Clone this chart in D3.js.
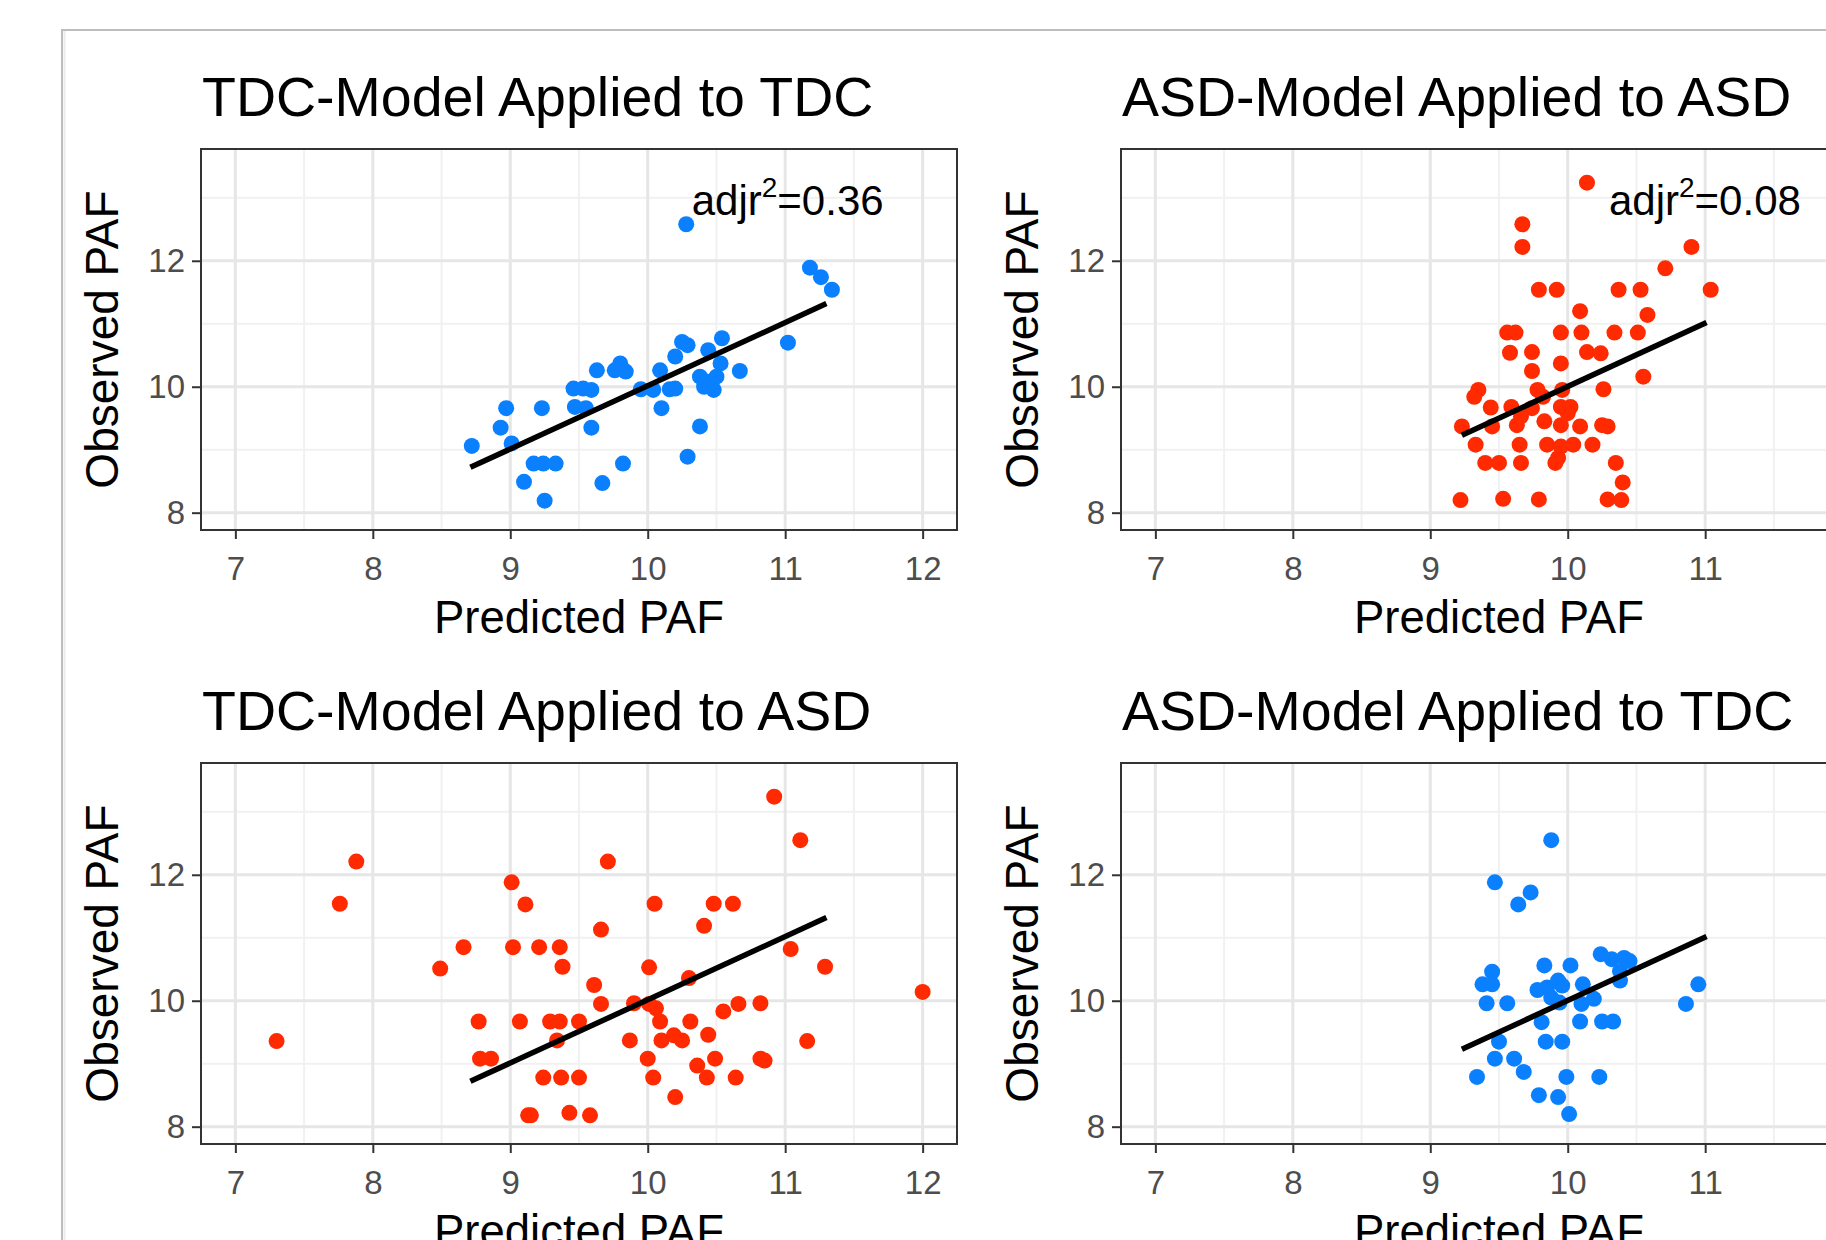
<!DOCTYPE html>
<html>
<head>
<meta charset="utf-8">
<script src="https://cdn.jsdelivr.net/npm/d3@7"></script>
<style>
  html, body { margin: 0; padding: 0; background: #ffffff; }
  svg { display: block; font-family: "Liberation Sans", Arial, Helvetica, sans-serif; }
</style>
</head>
<body>
<svg id="chart" width="1826" height="1240"></svg>
<script>
// ---------------- DATA ----------------
const panelTitles = [
  "TDC-Model Applied to TDC",
  "ASD-Model Applied to ASD",
  "TDC-Model Applied to ASD",
  "ASD-Model Applied to TDC"
];
const xLabel = "Predicted PAF";
const yLabel = "Observed PAF";
const xTicks = [7, 8, 9, 10, 11, 12];
const yTicks = [8, 10, 12];
const xMinor = [7.5, 8.5, 9.5, 10.5, 11.5];
const yMinor = [9, 11, 13];
const xDomain = [6.75, 12.25];
const yDomain = [7.725, 13.775];

// TDC-Model applied to TDC  [predicted, observed]
const tdcOnTdc = [
  [10.28,12.58],[11.18,11.89],[11.26,11.74],[11.34,11.54],[11.02,10.70],[10.25,10.71],
  [10.29,10.66],[10.54,10.77],[10.44,10.58],[10.20,10.48],[10.67,10.25],[10.09,10.26],
  [9.80,10.37],[9.76,10.26],[9.84,10.24],[9.63,10.26],[9.46,9.97],[9.53,9.97],
  [9.59,9.95],[9.47,9.68],[9.55,9.66],[9.59,9.35],[9.95,9.96],[10.04,9.95],
  [10.16,9.96],[10.10,9.66],[10.38,10.16],[10.41,10.00],[10.48,9.95],[10.50,10.16],
  [10.53,10.37],[10.38,9.37],[10.29,8.89],[8.97,9.66],[9.23,9.66],[8.93,9.35],
  [9.01,9.10],[8.72,9.06],[9.17,8.78],[9.24,8.78],[9.33,8.78],[9.10,8.49],
  [9.25,8.19],[9.67,8.47],[9.82,8.78],[10.43,10.08],[10.20,9.97],[10.45,10.05]
];
// ASD-Model applied to ASD
const asdOnAsd = [
  [10.14,13.24],[9.67,12.58],[9.67,12.22],[9.79,11.54],[9.92,11.54],[10.37,11.54],
  [10.53,11.54],[10.90,12.22],[10.71,11.88],[11.04,11.54],[10.09,11.20],[10.58,11.14],
  [9.56,10.86],[9.62,10.86],[9.95,10.86],[10.10,10.86],[10.34,10.86],[10.51,10.86],
  [9.58,10.54],[9.74,10.55],[10.14,10.55],[10.24,10.53],[9.95,10.37],[9.74,10.25],
  [10.55,10.16],[9.35,9.95],[9.32,9.84],[9.78,9.95],[9.82,9.84],[9.96,9.95],
  [10.26,9.96],[9.44,9.67],[9.59,9.68],[9.74,9.66],[9.95,9.68],[10.02,9.68],
  [9.23,9.37],[9.45,9.37],[9.63,9.39],[9.83,9.45],[9.95,9.39],[10.09,9.37],
  [10.25,9.39],[10.29,9.37],[9.33,9.08],[9.65,9.08],[9.85,9.08],[9.95,9.05],
  [10.04,9.08],[10.18,9.08],[9.40,8.79],[9.50,8.79],[9.66,8.79],[9.91,8.79],
  [9.93,8.87],[10.35,8.79],[10.40,8.48],[9.22,8.20],[9.53,8.22],[9.79,8.21],
  [10.29,8.21],[10.39,8.20],[9.66,9.53],[10.00,9.58]
];
// TDC-Model applied to ASD
const tdcOnAsd = [
  [7.30,9.36],[7.76,11.54],[7.88,12.21],[8.49,10.51],[8.66,10.85],[9.01,11.88],
  [9.11,11.53],[9.02,10.85],[9.21,10.85],[9.36,10.85],[9.38,10.54],[9.71,12.21],
  [9.66,11.13],[9.61,10.25],[9.66,9.95],[8.77,9.67],[9.07,9.67],[9.29,9.67],
  [9.36,9.67],[9.50,9.67],[9.34,9.37],[8.78,9.08],[8.86,9.08],[9.24,8.78],
  [9.37,8.78],[9.50,8.78],[9.13,8.18],[9.15,8.18],[9.43,8.22],[9.58,8.18],
  [10.92,13.24],[11.11,12.55],[10.05,11.54],[10.48,11.54],[10.62,11.54],[10.41,11.19],
  [10.01,10.53],[10.30,10.36],[11.04,10.82],[11.29,10.54],[12.00,10.14],[9.90,9.96],
  [10.01,9.95],[10.06,9.88],[10.09,9.67],[10.31,9.67],[10.55,9.83],[10.66,9.95],
  [10.82,9.96],[9.87,9.37],[10.10,9.37],[10.19,9.45],[10.25,9.37],[10.44,9.46],
  [11.16,9.36],[10.00,9.08],[10.49,9.08],[10.82,9.08],[10.85,9.05],[10.36,8.97],
  [10.04,8.78],[10.43,8.78],[10.64,8.78],[10.20,8.47]
];
// ASD-Model applied to TDC
const asdOnTdc = [
  [9.88,12.55],[9.47,11.88],[9.73,11.72],[9.64,11.53],[9.45,10.46],[9.38,10.26],
  [9.45,10.26],[9.41,9.96],[9.56,9.96],[9.83,10.56],[10.02,10.56],[9.78,10.17],
  [9.85,10.21],[9.93,10.32],[9.96,10.24],[9.88,10.05],[9.94,9.97],[10.11,10.26],
  [10.10,9.95],[10.19,10.03],[10.24,10.74],[10.32,10.66],[10.41,10.68],[10.45,10.63],
  [10.38,10.47],[10.38,10.32],[9.81,9.66],[10.09,9.67],[10.25,9.67],[10.33,9.67],
  [9.50,9.35],[9.84,9.35],[9.96,9.35],[9.47,9.08],[9.61,9.08],[9.68,8.87],
  [9.34,8.79],[9.99,8.79],[10.23,8.79],[9.79,8.50],[9.93,8.47],[10.01,8.20],
  [10.95,10.26],[10.86,9.95]
];
// fitted lines [predicted, observed] endpoints
const fitTdcModel = [[8.71, 8.72], [11.30, 11.32]];
const fitAsdModel = [[9.23, 9.23], [11.01, 11.02]];
// adjusted r^2 annotations  [x, y, value]
const annotTdc = [10.32, 12.72, "0.36"];
const annotAsd = [10.30, 12.72, "0.08"];

// ---------------- LAYOUT ----------------
const svg = d3.select("#chart");
const W = 1826, H = 1240;
svg.append("rect").attr("x", 0).attr("y", 0).attr("width", W).attr("height", H).attr("fill", "#fff");
// outer figure frame
svg.append("rect").attr("x", 62).attr("y", 30).attr("width", W).attr("height", H)
  .attr("fill", "#fff").attr("stroke", "#bdbdbd").attr("stroke-width", 2);
svg.append("line").attr("x1", 64.5).attr("x2", 64.5).attr("y1", 31).attr("y2", H)
  .attr("stroke", "#ececec").attr("stroke-width", 2);

const BLUE = "#0a80ff", RED = "#ff2a00";
const panels = [
  { title: panelTitles[0], pts: tdcOnTdc, color: BLUE, fit: fitTdcModel, ann: annotTdc, left: 201, top: 149 },
  { title: panelTitles[1], pts: asdOnAsd, color: RED, fit: fitAsdModel, ann: annotAsd, left: 1121, top: 149 },
  { title: panelTitles[2], pts: tdcOnAsd, color: RED, fit: fitTdcModel, ann: null, left: 201, top: 763 },
  { title: panelTitles[3], pts: asdOnTdc, color: BLUE, fit: fitAsdModel, ann: null, left: 1121, top: 763 }
];
const PW = 756, PH = 381;

panels.forEach(p => {
  const g = svg.append("g").attr("transform", `translate(${p.left},${p.top})`);
  const x = d3.scaleLinear().domain(xDomain).range([0, PW]);
  const y = d3.scaleLinear().domain(yDomain).range([PH, 0]);

  // background
  g.append("rect").attr("width", PW).attr("height", PH).attr("fill", "#fff");

  // minor grid
  g.selectAll(".gxm").data(xMinor).enter().append("line")
    .attr("x1", d => x(d)).attr("x2", d => x(d)).attr("y1", 0).attr("y2", PH)
    .attr("stroke", "#f1f1f1").attr("stroke-width", 2);
  g.selectAll(".gym").data(yMinor).enter().append("line")
    .attr("y1", d => y(d)).attr("y2", d => y(d)).attr("x1", 0).attr("x2", PW)
    .attr("stroke", "#f1f1f1").attr("stroke-width", 2);
  // major grid
  g.selectAll(".gx").data(xTicks).enter().append("line")
    .attr("x1", d => x(d)).attr("x2", d => x(d)).attr("y1", 0).attr("y2", PH)
    .attr("stroke", "#e6e6e6").attr("stroke-width", 3);
  g.selectAll(".gy").data(yTicks).enter().append("line")
    .attr("y1", d => y(d)).attr("y2", d => y(d)).attr("x1", 0).attr("x2", PW)
    .attr("stroke", "#e6e6e6").attr("stroke-width", 3);

  // points
  g.selectAll(".pt").data(p.pts).enter().append("circle")
    .attr("cx", d => x(d[0])).attr("cy", d => y(d[1])).attr("r", 8)
    .attr("fill", p.color);

  // fit line
  g.append("path").datum(p.fit)
    .attr("d", d3.line().x(d => x(d[0])).y(d => y(d[1])))
    .attr("stroke", "#000").attr("stroke-width", 5.5).attr("fill", "none");

  // annotation
  if (p.ann) {
    const t = g.append("text").attr("x", x(p.ann[0])).attr("y", y(p.ann[1]))
      .attr("font-size", 42).attr("fill", "#000");
    t.append("tspan").text("adjr");
    t.append("tspan").attr("font-size", 28).attr("dy", -18).text("2");
    t.append("tspan").attr("dy", 18).text("=" + p.ann[2]);
  }

  // border
  g.append("rect").attr("width", PW).attr("height", PH)
    .attr("fill", "none").attr("stroke", "#333").attr("stroke-width", 2);

  // axes
  const ax = g.append("g").attr("transform", `translate(0,${PH})`)
    .call(d3.axisBottom(x).tickValues(xTicks).tickSize(9).tickPadding(18).tickFormat(d3.format("d")));
  ax.select(".domain").remove();
  ax.selectAll("line").attr("stroke", "#333").attr("stroke-width", 2);
  ax.selectAll("text").attr("font-size", 33).attr("fill", "#4d4d4d")
    .attr("font-family", "'Liberation Sans', Arial, sans-serif");

  const ay = g.append("g")
    .call(d3.axisLeft(y).tickValues(yTicks).tickSize(9).tickPadding(7).tickFormat(d3.format("d")));
  ay.select(".domain").remove();
  ay.selectAll("line").attr("stroke", "#333").attr("stroke-width", 2);
  ay.selectAll("text").attr("font-size", 33).attr("fill", "#4d4d4d")
    .attr("font-family", "'Liberation Sans', Arial, sans-serif");

  // axis titles
  g.append("text").attr("x", PW / 2).attr("y", PH + 103).attr("text-anchor", "middle")
    .attr("font-size", 45.5).attr("fill", "#000").text(xLabel);
  g.append("text").attr("transform", `translate(-83,${PH / 2}) rotate(-90)`)
    .attr("text-anchor", "middle").attr("font-size", 46).attr("fill", "#000").text(yLabel);

  // panel title
  g.append("text").attr("x", 1).attr("y", -33).attr("font-size", 55.5).attr("fill", "#000").text(p.title);
});
</script>
</body>
</html>
